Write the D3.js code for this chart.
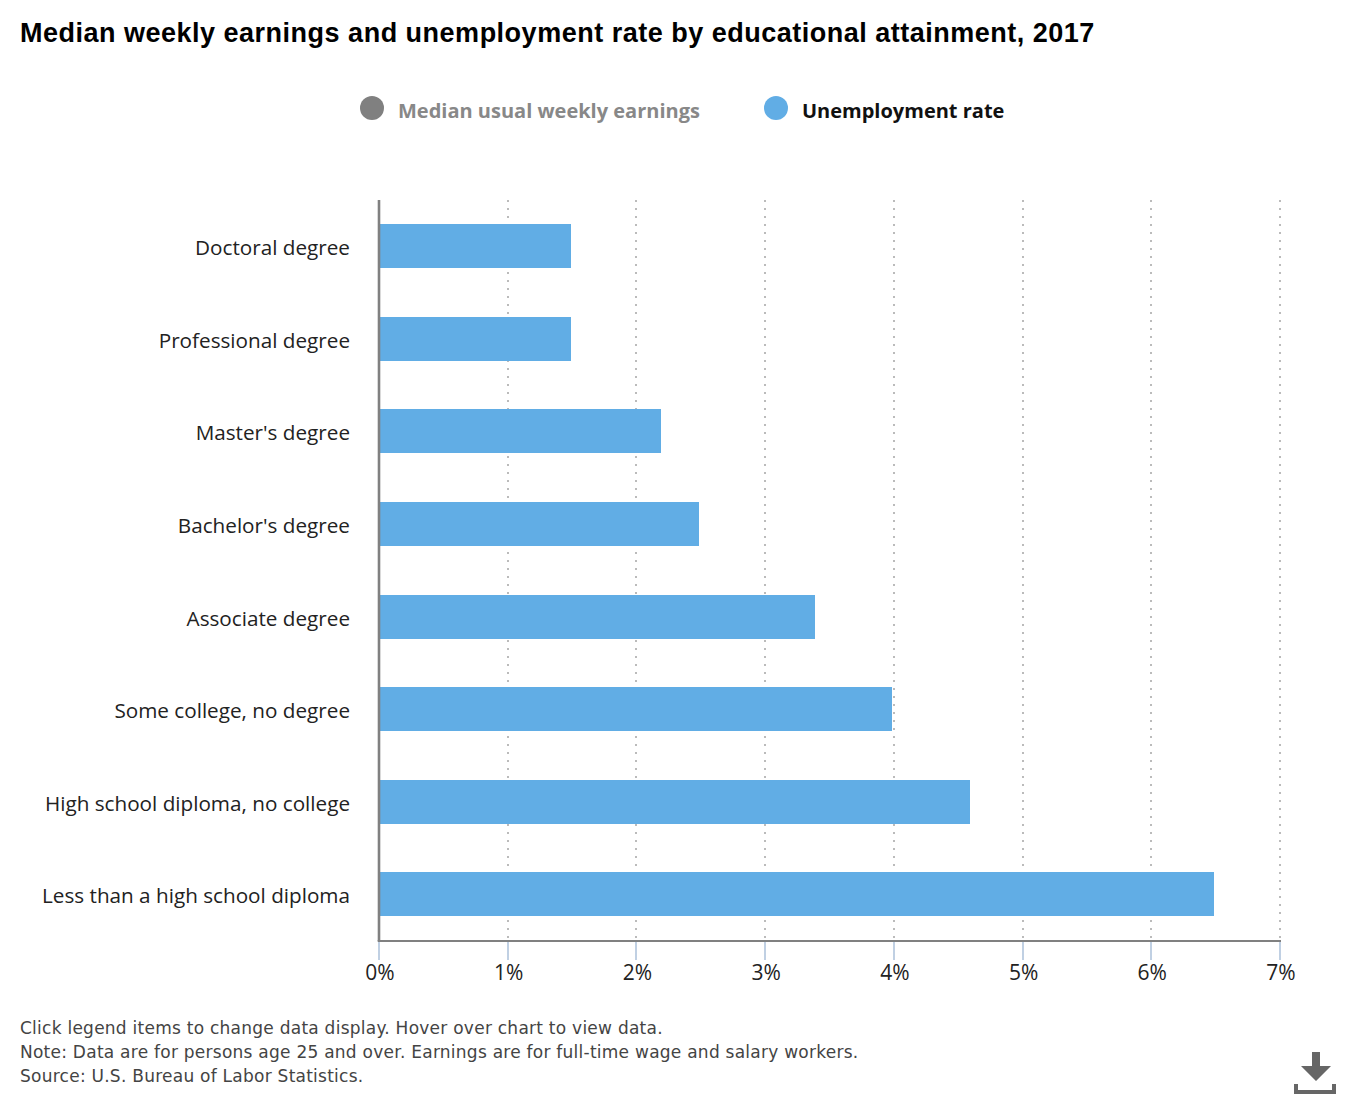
<!DOCTYPE html>
<html>
<head>
<meta charset="utf-8">
<title>Median weekly earnings and unemployment rate</title>
<script src="https://cdn.jsdelivr.net/npm/d3@7"></script>
<style>
html, body { margin: 0; padding: 0; background: #fff; }
svg { display: block; }
</style>
</head>
<body>
<div id="chart"></div>
<script>
const categories = ["Doctoral degree", "Professional degree", "Master's degree", "Bachelor's degree",
    "Associate degree", "Some college, no degree", "High school diploma, no college", "Less than a high school diploma"];
const unemployment = [1.5, 1.5, 2.2, 2.5, 3.4, 4.0, 4.6, 6.5];
const xTicks = [0, 1, 2, 3, 4, 5, 6, 7];
const legendItems = ["Median usual weekly earnings", "Unemployment rate"];
const notes = ["Click legend items to change data display. Hover over chart to view data.",
    "Note: Data are for persons age 25 and over. Earnings are for full-time wage and salary workers.",
    "Source: U.S. Bureau of Labor Statistics."];

const width = 1360, height = 1100;
const labelFont = "'Open Sans', sans-serif";
const blue = "#61ade5";

const svg = d3.select("#chart").append("svg")
    .attr("width", width)
    .attr("height", height)
    .attr("viewBox", [0, 0, width, height]);

const x = d3.scaleLinear().domain([0, 7]).range([379, 1280]);
const y = d3.scaleBand().domain(categories).range([199.7, 940.7]).paddingInner(0.525).paddingOuter(0.2625);
const barY = d => Math.round(y(d));

svg.append("text")
    .attr("x", 20).attr("y", 42)
    .attr("font-family", "'Liberation Sans', Arial, sans-serif")
    .attr("font-weight", "bold")
    .attr("font-size", 27)
    .attr("letter-spacing", 0.5)
    .attr("fill", "#000")
    .text("Median weekly earnings and unemployment rate by educational attainment, 2017");

// legend
const legend = svg.append("g").attr("font-family", labelFont).attr("font-weight", 700).attr("font-size", 20);
legend.selectAll("circle")
    .data(legendItems)
    .join("circle")
    .attr("cx", (d, i) => i ? 776 : 372)
    .attr("cy", 108)
    .attr("r", 12)
    .attr("fill", (d, i) => i ? blue : "#808080");
legend.selectAll("text")
    .data(legendItems)
    .join("text")
    .attr("x", (d, i) => i ? 802 : 398)
    .attr("y", 118)
    .attr("fill", (d, i) => i ? "#111" : "#888")
    .text(d => d);

// dotted grid
svg.append("g")
    .selectAll("line")
    .data(xTicks.slice(1))
    .join("line")
    .attr("x1", d => Math.round(x(d))).attr("x2", d => Math.round(x(d)))
    .attr("y1", 200).attr("y2", 941)
    .attr("stroke", "#bbb")
    .attr("stroke-width", 2)
    .attr("stroke-dasharray", "2 6");

svg.append("g")
    .selectAll("rect")
    .data(unemployment)
    .join("rect")
    .attr("x", x(0))
    .attr("y", (d, i) => barY(categories[i]))
    .attr("width", d => Math.round(x(d) - x(0) - 1.5))
    .attr("height", Math.round(y.bandwidth()))
    .attr("fill", blue);

// tick marks under the axis
svg.append("g")
    .selectAll("line")
    .data(xTicks)
    .join("line")
    .attr("x1", d => Math.round(x(d))).attr("x2", d => Math.round(x(d)))
    .attr("y1", 941).attr("y2", 960)
    .attr("stroke", "#c0d0e3")
    .attr("stroke-width", 2);

svg.append("line")
    .attr("x1", 377.7).attr("x2", 1281).attr("y1", 941).attr("y2", 941)
    .attr("stroke", "#808080").attr("stroke-width", 2);
svg.append("line")
    .attr("x1", 379).attr("x2", 379).attr("y1", 200).attr("y2", 941)
    .attr("stroke", "#808080").attr("stroke-width", 2.6);

svg.append("g")
    .attr("font-family", labelFont)
    .attr("font-size", 21)
    .attr("fill", "#222")
    .selectAll("text")
    .data(xTicks)
    .join("text")
    .attr("x", d => x(d) + 1)
    .attr("y", 980)
    .attr("text-anchor", "middle")
    .text(d => d + "%");

svg.append("g")
    .attr("font-family", labelFont)
    .attr("font-size", 20.7)
    .attr("fill", "#222")
    .selectAll("text")
    .data(categories)
    .join("text")
    .attr("x", 350)
    .attr("y", d => barY(d) + y.bandwidth() / 2 + 9)
    .attr("text-anchor", "end")
    .text(d => d);

svg.append("g")
    .attr("font-family", "'DejaVu Sans', sans-serif")
    .attr("font-size", 17)
    .attr("letter-spacing", 0.25)
    .attr("fill", "#444")
    .selectAll("text")
    .data(notes)
    .join("text")
    .attr("x", 20)
    .attr("y", (d, i) => 1033.5 + i * 24)
    .text(d => d);

// download icon
const icon = svg.append("g").attr("fill", "#666");
icon.append("path").attr("d", "M1312 1052h8v14h11l-15 15l-15-15h11z");
icon.append("path").attr("d", "M1294 1084h4v6h34v-6h4v10h-42z");
</script>
</body>
</html>
